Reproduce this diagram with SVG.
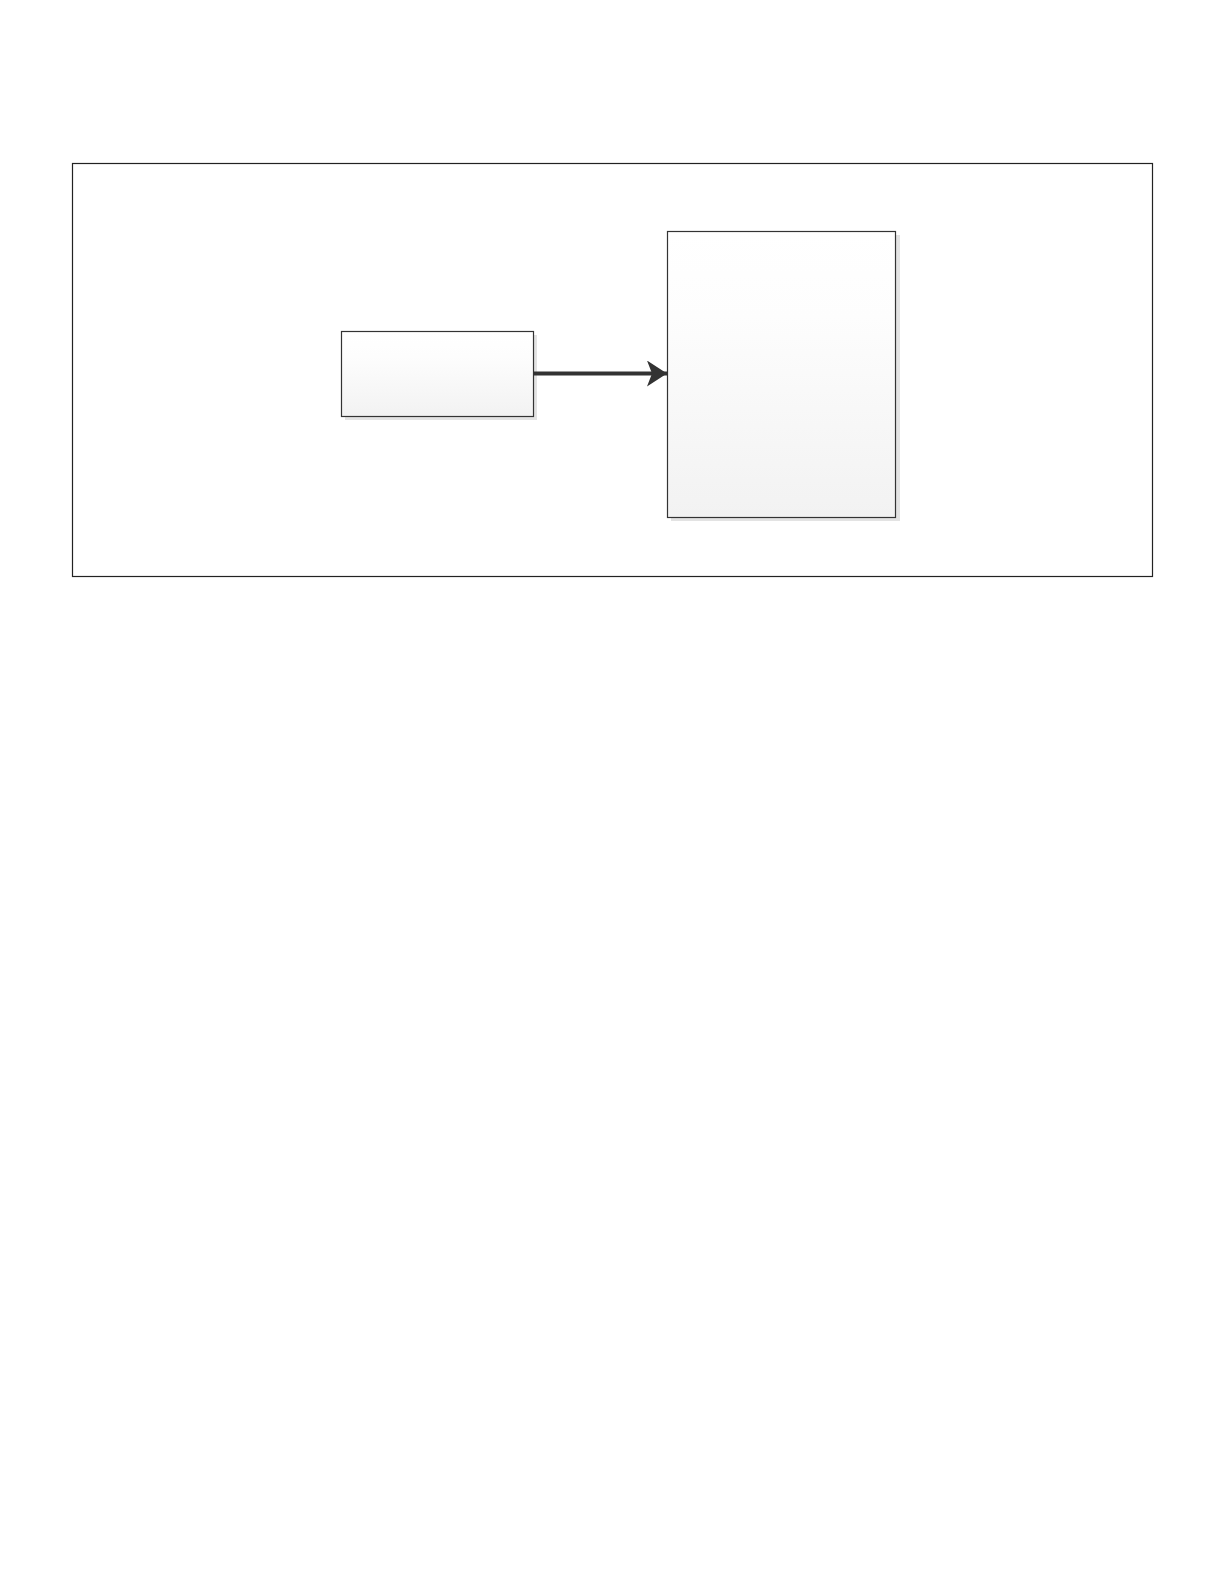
<svg xmlns="http://www.w3.org/2000/svg" width="1224" height="1584" viewBox="0 0 1224 1584">
  <style>
    .frame { fill: none; stroke: #222222; stroke-width: 1.2; }
    .shadow { fill: #e3e3e3; }
    .box { fill: url(#boxGrad); stroke: #333333; stroke-width: 1.2; }
    .conn { fill: none; stroke: #333333; stroke-width: 4.2; }
  </style>
  <defs>
    <linearGradient id="boxGrad" x1="0" y1="0" x2="0" y2="1">
      <stop offset="0" stop-color="#ffffff"/>
      <stop offset="0.3" stop-color="#fdfdfd"/>
      <stop offset="1" stop-color="#f2f2f2"/>
    </linearGradient>
    <marker id="arrow" markerUnits="userSpaceOnUse" markerWidth="22" markerHeight="28" refX="20" refY="13" orient="auto">
      <path d="M0,0 L20,13 L0,26 L5,13 Z" fill="#333333"/>
    </marker>
  </defs>
  <rect width="1224" height="1584" fill="#ffffff"/>
  <g id="frame">
    <rect class="frame" x="72.5" y="163.5" width="1080" height="413"/>
  </g>
  <g id="node-source">
    <rect class="shadow" x="345" y="335" width="192" height="85"/>
    <rect class="box" x="341.5" y="331.5" width="192" height="85"/>
  </g>
  <g id="node-target">
    <rect class="shadow" x="671" y="235" width="229" height="286"/>
    <rect class="box" x="667.5" y="231.5" width="228" height="286"/>
  </g>
  <g id="connectors">
    <line class="conn" x1="533" y1="373.5" x2="667" y2="373.5" marker-end="url(#arrow)"/>
  </g>
</svg>
